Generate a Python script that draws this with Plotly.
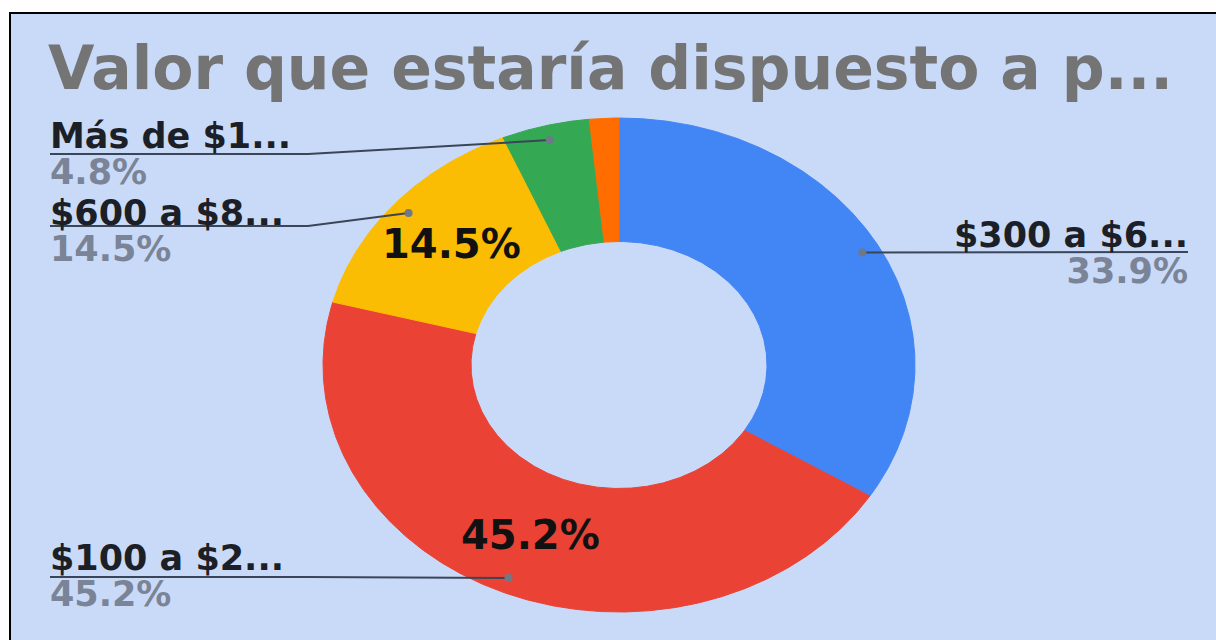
import numpy as np
import plotly.graph_objects as go

# ---- data ----
categories = ["$300 a $6...", "$100 a $2...", "$600 a $8...", "Más de $1...", "Otros"]
shares = [33.9, 45.2, 14.5, 4.8, 1.6]
title_text = "Valor que estaría dispuesto a p..."

# ---- style ----
slice_colors = ["#4285f4", "#ea4335", "#fbbc04", "#34a853", "#ff6d01"]
BG = "#c9daf8"
FONT = "DejaVu Sans"
W, H = 1216, 640

# donut geometry in page pixels (stretched ring)
CX, CY = 619, 365
RX, RY = 296, 247
HOLE = 0.5
DOT_R = 0.94
INSIDE_R = 0.75


def to_x(px):
    return (px - CX) / RX


def to_y(py):
    return (CY - py) / RY


def pxx(px):
    return px / W


def pyy(py):
    return 1 - py / H


fig = go.Figure()

total = sum(shares)
bounds = np.cumsum([0] + shares) / total * 2 * np.pi
mids = (bounds[:-1] + bounds[1:]) / 2

# ring segments, clockwise from 12 o'clock
for i, (name, v, col) in enumerate(zip(categories, shares, slice_colors)):
    t = np.linspace(bounds[i], bounds[i + 1], max(10, int(v * 10)))
    xo, yo = np.sin(t), np.cos(t)
    xs = np.concatenate([xo, HOLE * xo[::-1], xo[:1]])
    ys = np.concatenate([yo, HOLE * yo[::-1], yo[:1]])
    fig.add_trace(go.Scatter(
        x=xs, y=ys, mode="lines", fill="toself", fillcolor=col,
        line=dict(color=col, width=1), name=name,
        hoverinfo="text", text=f"{name} {v:.1f}%", showlegend=False,
    ))

# callout layout: which side, label block centre y and underline y (pixels)
callouts = {
    0: dict(side="right", block_y=253, line_y=252),
    1: dict(side="left", block_y=576, line_y=577),
    2: dict(side="left", block_y=231, line_y=226),
    3: dict(side="left", block_y=154, line_y=154),
}
LEFT_X, LEFT_ELBOW = 50, 308
RIGHT_X, RIGHT_ELBOW = 1188, 950
LINE_COL = "#3b4558"
LABEL_PX = 35
annotations = []

for i, cfg in callouts.items():
    dx = DOT_R * np.sin(mids[i])
    dy = DOT_R * np.cos(mids[i])
    ly = to_y(cfg["line_y"])
    if cfg["side"] == "left":
        lx = [to_x(LEFT_X), to_x(LEFT_ELBOW), dx]
        ax, anchor = pxx(LEFT_X - 2), "left"
    else:
        lx = [to_x(RIGHT_X), to_x(RIGHT_ELBOW), dx]
        ax, anchor = pxx(RIGHT_X + 2), "right"
    fig.add_trace(go.Scatter(
        x=lx, y=[ly, ly, dy], mode="lines",
        line=dict(color=LINE_COL, width=2), hoverinfo="skip", showlegend=False,
    ))
    fig.add_trace(go.Scatter(
        x=[dx], y=[dy], mode="markers",
        marker=dict(size=8, color="#6f7889"), hoverinfo="skip", showlegend=False,
    ))
    text = (
        f'<span style="font-size:{LABEL_PX}px"><b>{categories[i]}</b></span><br>'
        f'<span style="font-size:{LABEL_PX}px;color:#7a8496"><b>{shares[i]:.1f}%</b></span>'
    )
    annotations.append(dict(
        x=ax, y=pyy(cfg["block_y"]), xref="paper", yref="paper",
        xanchor=anchor, yanchor="middle", align=anchor, showarrow=False,
        text=text,
        font=dict(family=FONT, size=28, color="#1c1f26"),
    ))

# percentages printed on the ring
for i in (1, 2):
    annotations.append(dict(
        x=INSIDE_R * np.sin(mids[i]), y=INSIDE_R * np.cos(mids[i]),
        xref="x", yref="y", xanchor="center", yanchor="middle", showarrow=False,
        text=f"<b>{shares[i]:.1f}%</b>",
        font=dict(family=FONT, size=40, color="#111111"),
    ))

# title
annotations.append(dict(
    x=pxx(46), y=pyy(68), xref="paper", yref="paper",
    xanchor="left", yanchor="middle", showarrow=False,
    text=f"<b>{title_text}</b>",
    font=dict(family=FONT, size=60, color="#747474"),
))

fig.update_layout(
    width=W, height=H,
    margin=dict(l=0, r=0, t=0, b=0),
    paper_bgcolor="white",
    plot_bgcolor="rgba(0,0,0,0)",
    xaxis=dict(range=[to_x(0), to_x(W)], visible=False, fixedrange=True),
    yaxis=dict(range=[to_y(H), to_y(0)], visible=False, fixedrange=True),
    shapes=[dict(
        type="rect", xref="paper", yref="paper", layer="below",
        x0=pxx(10), x1=1.05, y0=-0.05, y1=pyy(13),
        fillcolor=BG, line=dict(color="black", width=2),
    )],
    annotations=annotations,
    showlegend=False,
)

fig.write_html("out.html")
